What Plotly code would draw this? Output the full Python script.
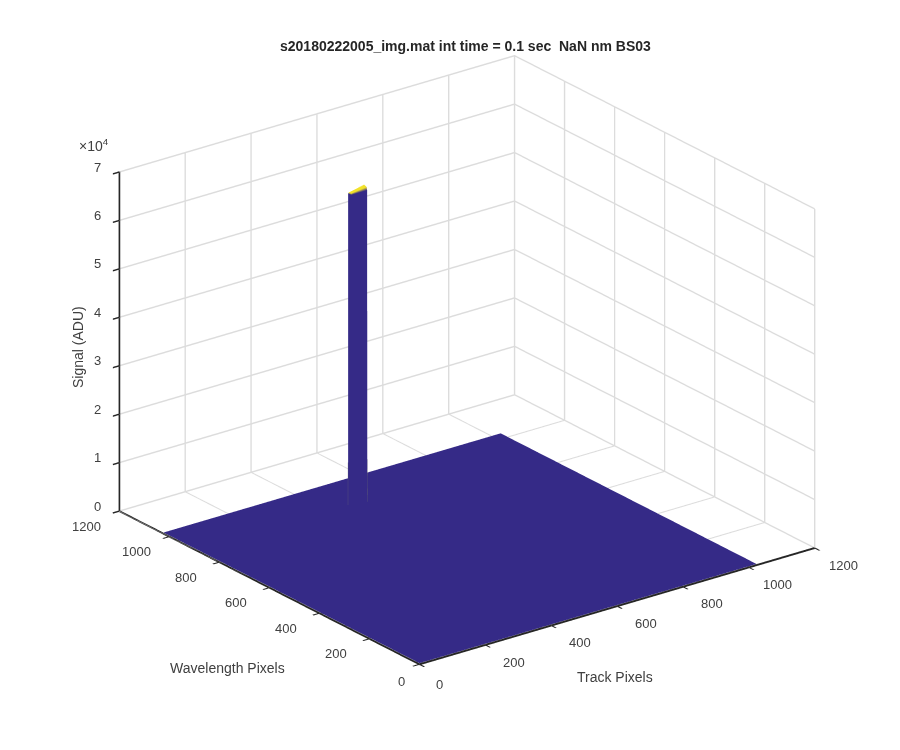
import plotly.graph_objects as go

title_text = "s20180222005_img.mat int time = 0.1 sec  NaN nm BS03"
track_pixels = [1, 460, 460.1, 461, 508, 508.9, 509, 1024]
wavelength_pixels = [1, 879, 879.1, 880, 890, 890.9, 891, 1024]
floor = 200
top = 64500
signal = [
    [floor] * 8,
    [floor] * 8,
    [floor, floor, top, top, top, top, floor, floor],
    [floor, floor, top, 64800, 65200, top, floor, floor],
    [floor, floor, top, 64700, 65400, top, floor, floor],
    [floor, floor, top, top, top, top, floor, floor],
    [floor] * 8,
    [floor] * 8,
]
face_level = [
    [0, 0, 0, 0, 0, 0, 0, 0],
    [0, 0, 0, 0, 0, 0, 0, 0],
    [0, 0, 0, 0, 0, 0, 0, 0],
    [0, 0, 0, 1, 1, 0, 0, 0],
    [0, 0, 0, 1, 1, 0, 0, 0],
    [0, 0, 0, 0, 0, 0, 0, 0],
    [0, 0, 0, 0, 0, 0, 0, 0],
    [0, 0, 0, 0, 0, 0, 0, 0],
]
xy_ticks = [0, 200, 400, 600, 800, 1000, 1200]
z_ticks = [0, 10000, 20000, 30000, 40000, 50000, 60000, 70000]
z_labels = ["0", "1", "2", "3", "4", "5", "6", "7"]
edge_x = [460, 460, None, 509, 509]
edge_y = [891, 891, None, 879, 879]
edge_z = [200, 9000, None, 200, 9000]

fig = go.Figure()
fig.add_trace(go.Surface(
    x=track_pixels, y=wavelength_pixels, z=signal, surfacecolor=face_level,
    colorscale=[[0, "#352a87"], [1, "#f2e22a"]], cmin=0, cmax=1, showscale=False,
    lighting=dict(ambient=1, diffuse=0, specular=0, roughness=1, fresnel=0),
    hoverinfo="skip",
))
fig.add_trace(go.Scatter3d(
    x=edge_x, y=edge_y, z=edge_z, mode="lines",
    line=dict(color="#6a6a70", width=1), hoverinfo="skip", showlegend=False,
))

def axis(tickvals, rng=(0, 1200)):
    return dict(
        range=list(rng), tickmode="array", tickvals=tickvals, showticklabels=False,
        title=dict(text=""), showbackground=False, showspikes=False,
        showgrid=True, gridcolor="#dcdcdc", gridwidth=3,
        showline=True, linecolor="#262626", linewidth=4,
        ticks="outside", ticklen=8, tickwidth=3, tickcolor="#262626",
        zeroline=False,
    )

tick_font = dict(family="Liberation Sans, Arial", size=13, color="#404040")
txt = dict(family="Liberation Sans, Arial", size=14, color="#404040")

scene_notes = []
for v in xy_ticks:
    scene_notes.append(dict(x=v, y=0, z=0, text=str(v), showarrow=False, font=tick_font,
                            xshift=20 if v == 0 else 29, yshift=-20 if v == 0 else -17))
    scene_notes.append(dict(x=0, y=v, z=0, text=str(v), showarrow=False, font=tick_font,
                            xshift=-18 if v == 0 else -33, yshift=-17 if v == 0 else -15))
for v, s in zip(z_ticks, z_labels):
    scene_notes.append(dict(x=0, y=1200, z=v, text=s, showarrow=False, font=tick_font, xshift=-22, yshift=5))

def note(text, px, py, font, **kw):
    # the page body adds an 8 px margin around the figure
    return dict(text=text, x=(px - 8) / 900, y=1 - (py - 8) / 750, xref="paper", yref="paper", showarrow=False,
                font=font, xanchor="center", yanchor="middle", **kw)

fig.update_layout(
    width=900, height=750, margin=dict(l=0, r=0, t=0, b=0), paper_bgcolor="white",
    showlegend=False,
    scene=dict(
        domain=dict(x=[0.02, 1], y=[0.061, 1]),
        xaxis=axis(xy_ticks), yaxis=axis(xy_ticks), zaxis=axis(z_ticks, (0, 70000)),
        aspectmode="manual", aspectratio=dict(x=1.41, y=1.41, z=1.045),
        camera=dict(
            projection=dict(type="orthographic"),
            eye=dict(x=-0.558 * 1.6, y=-0.735 * 1.6, z=0.388 * 1.6),
            center=dict(x=0, y=0, z=0), up=dict(x=0, y=0, z=1),
        ),
        annotations=scene_notes,
    ),
    annotations=[
        note("<b>" + title_text + "</b>", 466, 46, dict(family="Liberation Sans, Arial", size=14, color="#262626")),
        note("Wavelength Pixels", 227, 668, txt),
        note("Track Pixels", 615, 677, txt),
        note("Signal (ADU)", 78, 347, txt, textangle=-90),
        note("×10<sup>4</sup>", 94, 145, txt),
    ],
)
fig.write_html("out.html")
